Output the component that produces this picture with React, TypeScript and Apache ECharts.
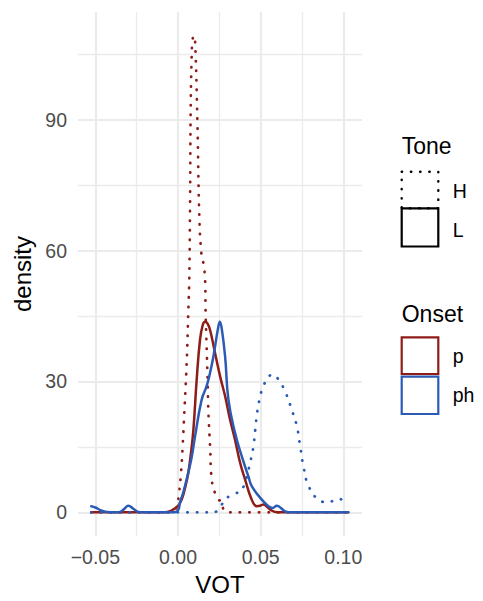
import React, { useEffect, useRef } from "react";
import * as echarts from "echarts";

// ---- data ----
const xMajorTicks = [-0.05, 0, 0.05, 0.1];
const xMinorTicks = [-0.025, 0.025, 0.075];
const yMajorTicks = [0, 30, 60, 90];
const yMinorTicks = [15, 45, 75, 105];

const toneLevels = ["H", "L"];
const onsetLevels = ["p", "ph"];

// p, Tone H (dotted red)
const pH_vot = [-0.0525, -0.01, -0.003, -0.0008, 0.0006, 0.0018, 0.0028, 0.0038, 0.0048, 0.0056, 0.0062, 0.0068, 0.0073, 0.0076, 0.0082, 0.0088, 0.0096, 0.0103, 0.0117, 0.0129, 0.0141, 0.0153, 0.0164, 0.0167, 0.0173, 0.0179, 0.0184, 0.0194, 0.0204, 0.0224, 0.0244, 0.0264, 0.0275, 0.029, 0.035, 0.103];
const pH_density = [0, 0, 0.2, 1.4, 4.4, 9.0, 15.1, 22.8, 30.4, 38, 45.7, 53.2, 71.6, 90, 103.7, 108.3, 109.3, 108.3, 90, 67.7, 59.5, 57.2, 53.2, 45.7, 38, 30.4, 22.8, 15.1, 7.5, 4.4, 2.9, 2.5, 0.6, 0, 0, 0];

// p, Tone L (solid red)
const pL_vot = [-0.0525, -0.008, -0.004, 0, 0.0022, 0.0042, 0.0062, 0.0078, 0.0093, 0.0113, 0.0133, 0.015, 0.0164, 0.0178, 0.0194, 0.0224, 0.0255, 0.0285, 0.0315, 0.0345, 0.0376, 0.0406, 0.0446, 0.0476, 0.0497, 0.0517, 0.054, 0.0558, 0.06, 0.103];
const pL_density = [0, 0, 0.4, 1.5, 2.9, 5.5, 9.0, 13.5, 18.9, 30.4, 39.5, 43.0, 43.7, 43.3, 41.8, 36.5, 31.1, 26.6, 21.2, 16.6, 11.3, 7.5, 2.9, 1.4, 1.5, 1.8, 1.2, 0.6, 0, 0];

// ph, Tone H (dotted blue)
const phH_vot = [-0.0525, 0.02, 0.0234, 0.0244, 0.0265, 0.0285, 0.0315, 0.0345, 0.0376, 0.04, 0.0416, 0.0436, 0.0456, 0.0476, 0.0497, 0.0517, 0.0547, 0.0578, 0.0608, 0.0648, 0.0688, 0.0719, 0.0739, 0.0759, 0.079, 0.085, 0.0911, 0.095, 0.0972, 0.1, 0.1032];
const phH_density = [0, 0, 0.2, 0.6, 1.8, 2.9, 3.8, 4.3, 4.8, 6.2, 8.2, 11.3, 15.1, 22.0, 26.6, 28.9, 31.1, 31.5, 30.4, 27.7, 23.5, 19.7, 15.1, 10.5, 6.0, 2.9, 2.3, 2.9, 3.1, 2.7, 2.3];

// ph, Tone L (solid blue)
const phL_vot = [-0.0525, -0.05, -0.047, -0.044, -0.041, -0.036, -0.033, -0.03, -0.027, -0.024, -0.021, -0.002, 0.0002, 0.0012, 0.0032, 0.0052, 0.0082, 0.0103, 0.0143, 0.0173, 0.0194, 0.0214, 0.0244, 0.0253, 0.0265, 0.0285, 0.0305, 0.0345, 0.0386, 0.0426, 0.0446, 0.0507, 0.0547, 0.0572, 0.0598, 0.0625, 0.0648, 0.067, 0.103];
const phL_density = [1.4, 1.1, 0.5, 0.1, 0, 0, 0.6, 1.5, 0.8, 0.1, 0, 0, 0.6, 2.2, 4.6, 7.5, 12.5, 17.4, 25.8, 28.9, 32.0, 35.7, 42.6, 43.7, 42.0, 35.7, 25.8, 18.2, 12.8, 8.2, 6.0, 2.9, 1.4, 1.0, 1.5, 0.9, 0.2, 0, 0];

const RED = "#8E1C17";
const BLUE = "#2C5BB6";
const FONT = "'Liberation Sans', Arial, Helvetica, sans-serif";

const pairs = (xs: number[], ys: number[]) => xs.map((x, i) => [x, ys[i]]);

const fmtX = (v: number) => {
  const s = Math.abs(v).toFixed(2);
  return v < 0 ? "\u2212" + s : s;
};

export default function App() {
  const ref = useRef<HTMLDivElement>(null);

  useEffect(() => {
    if (!ref.current) return;
    const chart = echarts.init(ref.current, null, { renderer: "svg" });

    const xMin = -0.0605;
    const xMax = 0.1113;
    const yMin = -5.46;
    const yMax = 114.7;

    const gridCol = "#EBEBEB";

    const lineSeries = (
      name: string,
      xs: number[],
      ys: number[],
      color: string,
      dotted: boolean
    ) => ({
      type: "line",
      name,
      xAxisIndex: 0,
      yAxisIndex: 0,
      data: pairs(xs, ys),
      showSymbol: false,
      symbol: "none",
      smooth: 0.45,
      clip: true,
      lineStyle: dotted
        ? { color, width: 2.7, type: [0.4, 9.2], cap: "round" }
        : { color, width: 2.5, type: "solid", cap: "round", join: "round" },
      emphasis: { disabled: true },
    });

    const legendX = 401.7;
    const keyW = 36.6;
    const labelX = 452.7;

    chart.setOption({
      animation: false,
      backgroundColor: "#ffffff",
      textStyle: { fontFamily: FONT },
      grid: [{ left: 78, top: 12, width: 284, height: 524.5 }],
      xAxis: [
        {
          type: "value",
          min: xMin,
          max: xMax,
          position: "bottom",
          name: "VOT",
          nameLocation: "middle",
          nameGap: 35,
          nameTextStyle: { color: "#000000", fontSize: 24, fontFamily: FONT },
          axisLine: { show: false },
          axisTick: { show: false, customValues: xMajorTicks },
          axisLabel: {
            customValues: xMajorTicks,
            formatter: (v: number) => fmtX(v),
            color: "#4D4D4D",
            fontSize: 19.5,
            fontFamily: FONT,
            margin: 11,
          },
          splitLine: { show: true, lineStyle: { color: gridCol, width: 2.2 } },
        },
        {
          type: "value",
          min: xMin,
          max: xMax,
          position: "bottom",
          axisLine: { show: false },
          axisTick: { show: false, customValues: xMinorTicks },
          axisLabel: { show: false, customValues: xMinorTicks },
          splitLine: { show: true, lineStyle: { color: gridCol, width: 1.3 } },
        },
      ],
      yAxis: [
        {
          type: "value",
          min: yMin,
          max: yMax,
          position: "left",
          name: "density",
          nameLocation: "middle",
          nameGap: 42,
          nameRotate: 90,
          nameTextStyle: { color: "#000000", fontSize: 24, fontFamily: FONT },
          axisLine: { show: false },
          axisTick: { show: false, customValues: yMajorTicks },
          axisLabel: {
            customValues: yMajorTicks,
            formatter: (v: number) => String(Math.round(v)),
            color: "#4D4D4D",
            fontSize: 19.5,
            fontFamily: FONT,
            margin: 11,
          },
          splitLine: { show: true, lineStyle: { color: gridCol, width: 2.2 } },
        },
        {
          type: "value",
          min: yMin,
          max: yMax,
          position: "left",
          axisLine: { show: false },
          axisTick: { show: false, customValues: yMinorTicks },
          axisLabel: { show: false, customValues: yMinorTicks },
          splitLine: { show: true, lineStyle: { color: gridCol, width: 1.3 } },
        },
      ],
      series: [
        lineSeries("p H", pH_vot, pH_density, RED, true),
        lineSeries("p L", pL_vot, pL_density, RED, false),
        lineSeries("ph H", phH_vot, phH_density, BLUE, true),
        lineSeries("ph L", phL_vot, phL_density, BLUE, false),
      ],
      graphic: [
        {
          type: "text",
          left: legendX,
          top: 134,
          style: { text: "Tone", fontSize: 23, fontFamily: FONT, fill: "#000000" },
        },
        {
          type: "rect",
          shape: { x: legendX, y: 171.7, width: keyW, height: 36.6 },
          style: { fill: "none", stroke: "#000000", lineWidth: 2.4, lineDash: [0.4, 8.8], lineCap: "round" },
          z: 10,
        },
        {
          type: "rect",
          shape: { x: legendX, y: 208.3, width: keyW, height: 38.2 },
          style: { fill: "none", stroke: "#000000", lineWidth: 2.2 },
          z: 9,
        },
        {
          type: "text",
          x: labelX,
          y: 191,
          style: { text: toneLevels[0], fontSize: 19.5, fontFamily: FONT, fill: "#000000", verticalAlign: "middle" },
        },
        {
          type: "text",
          x: labelX,
          y: 229.5,
          style: { text: toneLevels[1], fontSize: 19.5, fontFamily: FONT, fill: "#000000", verticalAlign: "middle" },
        },
        {
          type: "text",
          left: legendX,
          top: 302,
          style: { text: "Onset", fontSize: 23, fontFamily: FONT, fill: "#000000" },
        },
        {
          type: "rect",
          shape: { x: legendX, y: 337.3, width: keyW, height: 36.7 },
          style: { fill: "none", stroke: RED, lineWidth: 2.2 },
        },
        {
          type: "rect",
          shape: { x: legendX, y: 376.7, width: keyW, height: 37.3 },
          style: { fill: "none", stroke: BLUE, lineWidth: 2.2 },
        },
        {
          type: "text",
          x: labelX,
          y: 355.5,
          style: { text: onsetLevels[0], fontSize: 19.5, fontFamily: FONT, fill: "#000000", verticalAlign: "middle" },
        },
        {
          type: "text",
          x: labelX,
          y: 395,
          style: { text: onsetLevels[1], fontSize: 19.5, fontFamily: FONT, fill: "#000000", verticalAlign: "middle" },
        },
      ],
    });

    return () => {
      chart.dispose();
    };
  }, []);

  return (
    <div
      ref={ref}
      style={{ position: "absolute", left: 0, top: 0, width: 483, height: 601, background: "#ffffff" }}
    />
  );
}
